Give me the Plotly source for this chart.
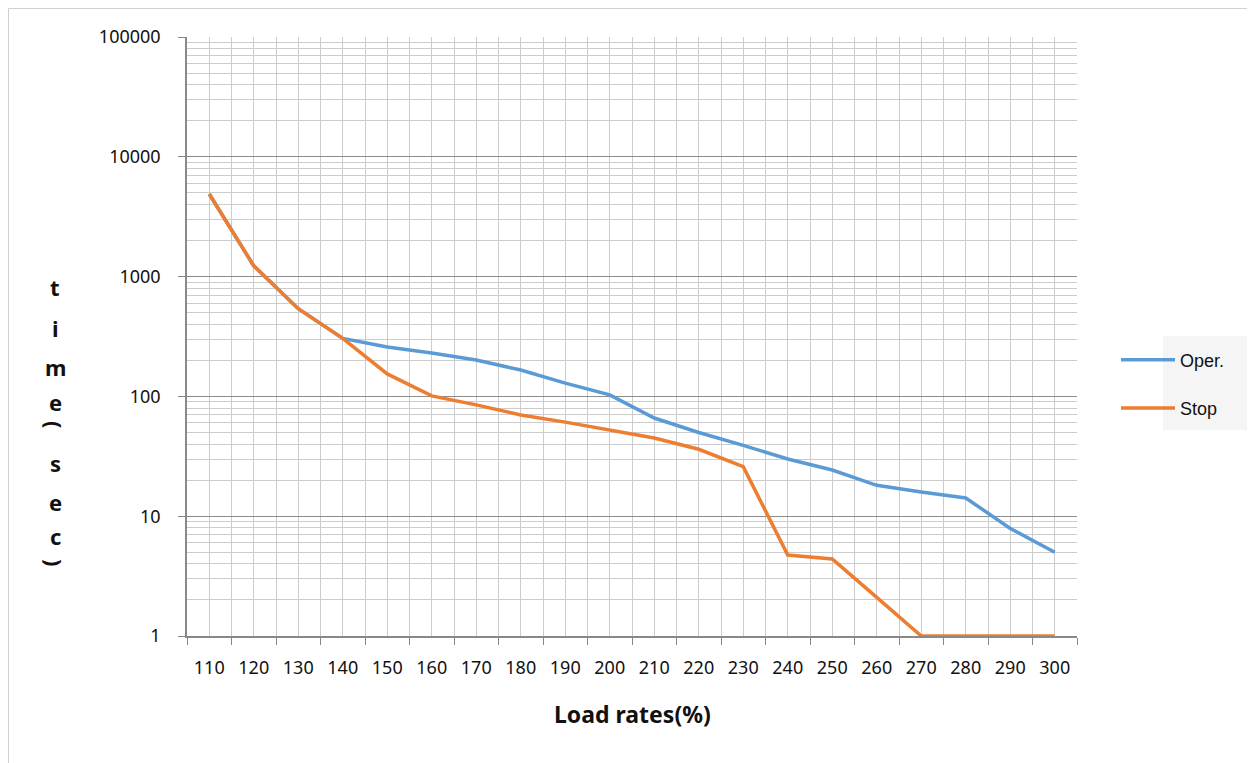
import plotly.graph_objects as go

load_rates = [110, 120, 130, 140, 150, 160, 170, 180, 190, 200,
              210, 220, 230, 240, 250, 260, 270, 280, 290, 300]
oper_sec = [4890, 1230, 540, 305, 258, 230, 201, 166, 129, 103,
            66, 50, 39, 30, 24.3, 18.1, 15.9, 14.2, 7.9, 5.0]
stop_sec = [4890, 1230, 540, 305, 154, 101, 85, 70, 61, 52.5,
            45, 36.2, 25.9, 4.74, 4.4, 2.1, 1, 1, 1, 1]
y_ticks = [1, 10, 100, 1000, 10000, 100000]
y_ticktext = ["1", "10", "100", "1000", "10000", "100000"]
y_label_chars = ["t", "i", "m", "e", "(", "s", "e", "c", ")"]
y_label_pix = [287, 328, 367, 402, 424, 463, 502, 536, 562]
y_label_angle = [0, 0, 0, 0, 90, 0, 0, 0, 90]

W, H = 1255, 763
OFF = 8  # page body margin
L, R, T, B = 187 - OFF, 1077 - OFF, 37 - OFF, 636 - OFF

def px(x):
    return (x - OFF - L) / (R - L)

def py(y):
    return (B - (y - OFF)) / (B - T)

minor_y = [m * 10 ** e for e in range(0, 5) for m in range(2, 10)]

fig = go.Figure()
fig.add_trace(go.Scatter(x=load_rates, y=oper_sec, mode="lines", name="Oper.",
                         line=dict(color="#5b9bd5", width=3.5), legendgroup="a"))
fig.add_trace(go.Scatter(x=load_rates, y=stop_sec, mode="lines", name="Stop",
                         line=dict(color="#ed7d31", width=3.5), legendgroup="b"))

fig.update_layout(
    width=W, height=H,
    margin=dict(l=L, r=W - R, t=T, b=H - B, autoexpand=False),
    paper_bgcolor="white", plot_bgcolor="white",
    font=dict(family="Noto Sans", size=18, color="#111"),
    showlegend=True,
    legend=dict(x=px(1116), y=py(384), xanchor="left", yanchor="middle",
                font=dict(family="Liberation Sans", size=18, color="#111"),
                bgcolor="rgba(0,0,0,0)", tracegroupgap=22, traceorder="grouped",
                itemwidth=54),
    xaxis=dict(
        range=[105, 305], tickvals=load_rates, ticktext=[str(v) for v in load_rates],
        ticks="", showgrid=True, gridcolor="#cccccc", gridwidth=1,
        showline=True, linecolor="#888888", linewidth=1.5, zeroline=False,
        ticklabelstandoff=15,
        minor=dict(tick0=105, dtick=10, ticks="outside", ticklen=7, tickcolor="#888888",
                   showgrid=True, gridcolor="#cccccc", gridwidth=1),
        tickfont=dict(family="Noto Sans", size=18, color="#111"),
    ),
    yaxis=dict(
        type="log", range=[0, 5], tickvals=y_ticks, ticktext=y_ticktext,
        ticks="outside", ticklen=7, tickcolor="#888888",
        showgrid=True, gridcolor="#8c8c8c", gridwidth=1,
        showline=True, linecolor="#888888", linewidth=1.5, zeroline=False,
        ticklabelstandoff=14,
        minor=dict(tickvals=minor_y, ticks="", showgrid=True, gridcolor="#cccccc", gridwidth=1),
        tickfont=dict(family="Noto Sans", size=18, color="#111"),
    ),
    shapes=[
        dict(type="rect", xref="paper", yref="paper", x0=px(8.5), x1=px(1300), y0=py(800), y1=py(8.5),
             line=dict(color="#d0d0d0", width=1), fillcolor="rgba(0,0,0,0)", layer="below"),
        dict(type="rect", xref="paper", yref="paper", x0=px(1163), x1=px(1265), y0=py(430), y1=py(336),
             line=dict(width=0), fillcolor="#f5f5f5", layer="below"),
    ],
)

fig.add_annotation(text="<b>Load rates(%)</b>", xref="paper", yref="paper", x=px(632), y=py(714),
                   xanchor="center", yanchor="middle", showarrow=False,
                   font=dict(family="Noto Sans", size=23, color="#111"))

for ch, yp, ang in zip(y_label_chars, y_label_pix, y_label_angle):
    fig.add_annotation(text="<b>%s</b>" % ch, xref="paper", yref="paper", x=px(55), y=py(yp),
                       xanchor="center", yanchor="middle", showarrow=False, textangle=ang,
                       font=dict(family="Noto Sans", size=22, color="#111"))

fig.write_html("out.html")
